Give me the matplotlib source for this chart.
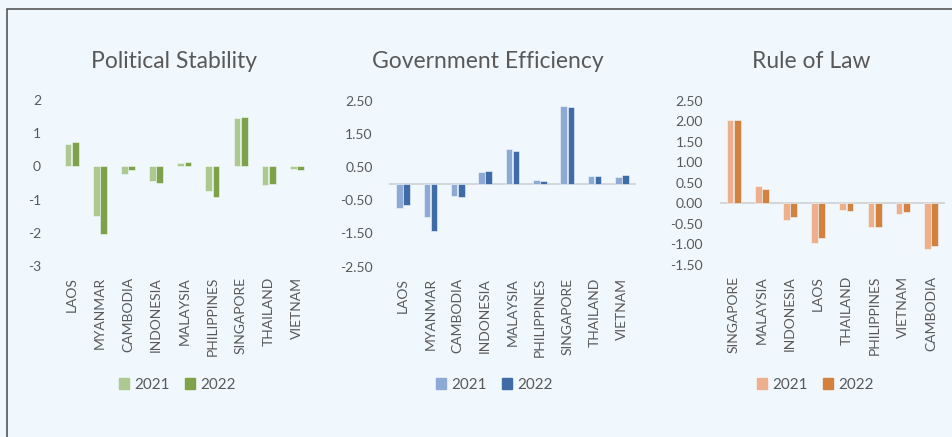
import numpy as np
import matplotlib.pyplot as plt
from matplotlib.patches import Rectangle, Patch

plt.rcParams['font.family'] = ['Lato', 'DejaVu Sans']

# governance indicators, ASEAN members
stab_countries = ['LAOS', 'MYANMAR', 'CAMBODIA', 'INDONESIA', 'MALAYSIA',
                  'PHILIPPINES', 'SINGAPORE', 'THAILAND', 'VIETNAM']
stab_2021 = [0.68, -1.48, -0.22, -0.44, 0.10, -0.74, 1.45, -0.55, -0.08]
stab_2022 = [0.74, -2.03, -0.10, -0.50, 0.14, -0.91, 1.48, -0.53, -0.11]

eff_countries = ['LAOS', 'MYANMAR', 'CAMBODIA', 'INDONESIA', 'MALAYSIA',
                 'PHILIPPINES', 'SINGAPORE', 'THAILAND', 'VIETNAM']
eff_2021 = [-0.73, -1.00, -0.37, 0.35, 1.06, 0.10, 2.33, 0.24, 0.21]
eff_2022 = [-0.63, -1.42, -0.41, 0.38, 0.99, 0.07, 2.30, 0.24, 0.27]

law_countries = ['SINGAPORE', 'MALAYSIA', 'INDONESIA', 'LAOS', 'THAILAND',
                 'PHILIPPINES', 'VIETNAM', 'CAMBODIA']
law_2021 = [2.02, 0.42, -0.40, -0.97, -0.17, -0.57, -0.26, -1.11]
law_2022 = [2.02, 0.36, -0.33, -0.84, -0.18, -0.57, -0.22, -1.04]

bg = '#F0F8FE'
txt = '#595959'

W, H = 952, 437
fig = plt.figure(figsize=(W / 100, H / 100), dpi=100, facecolor=bg)

def box(x0, x1, y0, y1):
    return [x0 / W, 1 - y1 / H, (x1 - x0) / W, (y1 - y0) / H]

panels = [
    dict(title='Political Stability', cats=stab_countries, a=stab_2021, b=stab_2022,
         c=('#ADC990', '#7EA14A'), ylim=(-3, 2), ticks=np.arange(-3, 3, 1), fmt='{:.0f}',
         rect=box(57.6, 311, 100, 266), zero=False, title_x=174, leg_x=177),
    dict(title='Government Efficiency', cats=eff_countries, a=eff_2021, b=eff_2022,
         c=('#8EA9D3', '#3F6CA6'), ylim=(-2.5, 2.5), ticks=np.arange(-2.5, 3, 1.0), fmt='{:.2f}',
         rect=box(389.3, 635.7, 100.7, 266.7), zero=True, title_x=488, leg_x=494),
    dict(title='Rule of Law', cats=law_countries, a=law_2021, b=law_2022,
         c=('#EEAF8C', '#D2823E'), ylim=(-1.5, 2.5), ticks=np.arange(-1.5, 2.51, 0.5), fmt='{:.2f}',
         rect=box(719.6, 945, 100.7, 265), zero=True, title_x=811, leg_x=815),
]

for p in panels:
    ax = fig.add_axes(p['rect'])
    ax.set_facecolor('none')
    x = np.arange(len(p['cats']))
    w = 0.24
    ax.bar(x - 0.13, p['a'], w, color=p['c'][0], edgecolor=bg, linewidth=0.4, zorder=3)
    ax.bar(x + 0.13, p['b'], w, color=p['c'][1], edgecolor=bg, linewidth=0.4, zorder=3)
    if p['zero']:
        ax.axhline(0, color='#D0D4D8', lw=1.3, zorder=2)
    ax.set_xlim(-0.5, len(x) - 0.5)
    ax.set_ylim(*p['ylim'])
    ax.set_yticks(p['ticks'])
    ax.set_yticklabels([p['fmt'].format(t) for t in p['ticks']])
    ax.set_xticks(x)
    ax.set_xticklabels(p['cats'], rotation=90)
    ax.tick_params(axis='y', length=0, pad=12, labelsize=10, labelcolor=txt)
    ax.tick_params(axis='x', length=0, pad=8, labelsize=10, labelcolor=txt)
    for s in ax.spines.values():
        s.set_visible(False)
    fig.text(p['title_x'] / W, 1 - 62 / H, p['title'], ha='center', va='center',
             fontsize=16.5, color=txt)
    handles = [Patch(color=p['c'][0], label='2021'), Patch(color=p['c'][1], label='2022')]
    fig.legend(handles=handles, loc='center', bbox_to_anchor=(p['leg_x'] / W, 1 - 385 / H),
               ncol=2, frameon=False, fontsize=11, labelcolor=txt,
               handlelength=0.7, handleheight=0.7, handletextpad=0.3, columnspacing=1.0)

# outer chart frame (clipped at right and bottom edges)
fig.patches.append(Rectangle((7 / W, -0.1), 1.2, 1 - 9 / H + 0.1, transform=fig.transFigure,
                             fill=False, edgecolor='#555555', lw=1.2))

fig.savefig('out.png', dpi=100, facecolor=bg)
